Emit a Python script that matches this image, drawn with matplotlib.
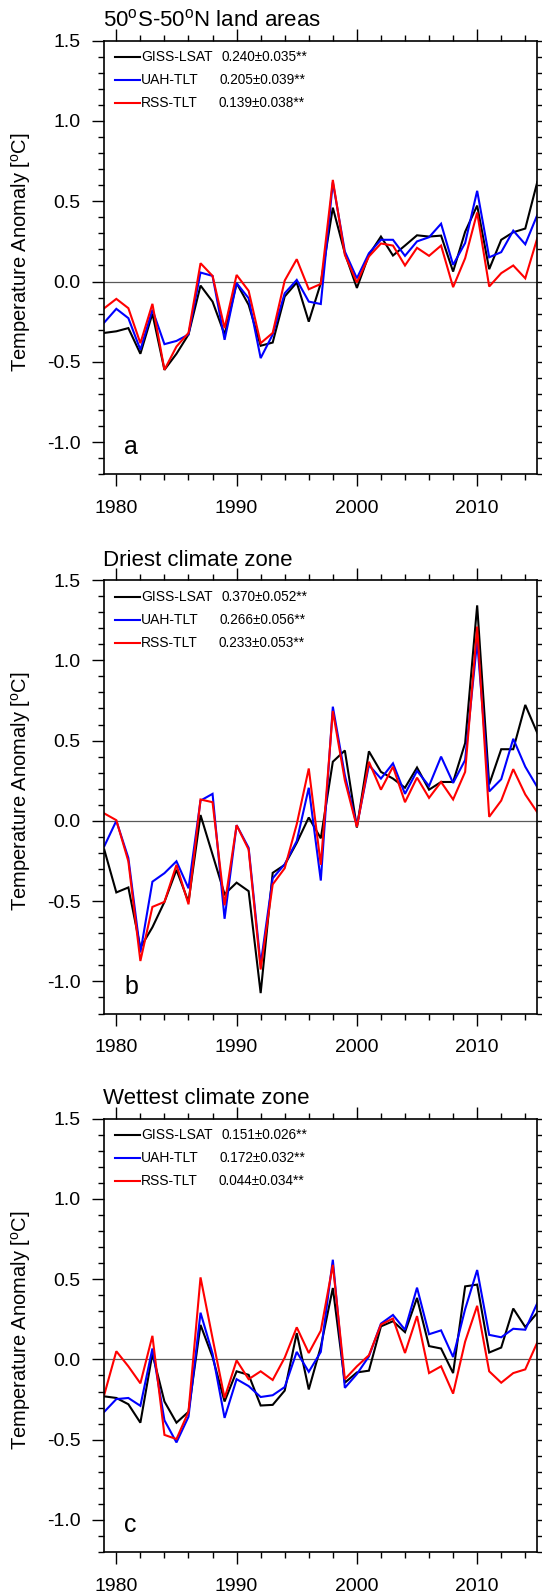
import numpy as np
import matplotlib
matplotlib.use("Agg")
import matplotlib.pyplot as plt

plt.rcParams["font.family"] = ["Liberation Sans", "DejaVu Sans"]
plt.rcParams["mathtext.fontset"] = "custom"
plt.rcParams["mathtext.rm"] = "Liberation Sans"

years = np.arange(1979, 2016)

# panel a: 50S-50N land areas
giss_a = [-0.32, -0.31, -0.29, -0.45, -0.20, -0.55, -0.45, -0.33, -0.025, -0.125,
          -0.33, -0.01, -0.145, -0.40, -0.38, -0.093, -0.006, -0.25, -0.01, 0.46,
          0.176, -0.04, 0.166, 0.28, 0.162, 0.224, 0.288, 0.28, 0.286, 0.062,
          0.31, 0.473, 0.077, 0.26, 0.307, 0.33, 0.62]
uah_a = [-0.255, -0.17, -0.228, -0.425, -0.176, -0.39, -0.37, -0.33, 0.056, 0.035,
         -0.363, -0.01, -0.104, -0.477, -0.33, -0.073, 0.01, -0.125, -0.14, 0.618,
         0.187, 0.02, 0.176, 0.26, 0.26, 0.16, 0.25, 0.276, 0.36, 0.104,
         0.24, 0.565, 0.151, 0.183, 0.317, 0.232, 0.415]
rss_a = [-0.166, -0.108, -0.166, -0.384, -0.139, -0.55, -0.405, -0.32, 0.114, 0.035,
         -0.29, 0.041, -0.058, -0.384, -0.32, 0.006, 0.139, -0.048, -0.015, 0.633,
         0.166, -0.006, 0.156, 0.237, 0.224, 0.10, 0.21, 0.16, 0.224, -0.035,
         0.145, 0.43, -0.031, 0.052, 0.10, 0.02, 0.27]

# panel b: driest climate zone
giss_b = [-0.18, -0.446, -0.415, -0.79, -0.663, -0.505, -0.305, -0.505, 0.036, -0.21,
          -0.457, -0.385, -0.438, -1.073, -0.324, -0.274, -0.137, 0.021, -0.109, 0.368,
          0.438, -0.042, 0.433, 0.305, 0.263, 0.206, 0.332, 0.194, 0.242, 0.242,
          0.484, 1.342, 0.227, 0.446, 0.446, 0.722, 0.547]
uah_b = [-0.158, 0.0, -0.231, -0.82, -0.379, -0.326, -0.252, -0.42, 0.126, 0.168,
         -0.61, -0.027, -0.168, -0.894, -0.358, -0.27, -0.126, 0.206, -0.372, 0.711,
         0.284, -0.032, 0.347, 0.263, 0.358, 0.168, 0.311, 0.217, 0.40, 0.236,
         0.379, 1.119, 0.183, 0.259, 0.511, 0.337, 0.21]
rss_b = [0.046, 0.004, -0.252, -0.873, -0.536, -0.505, -0.274, -0.52, 0.133, 0.116,
         -0.526, -0.027, -0.179, -0.926, -0.396, -0.295, -0.021, 0.326, -0.274, 0.684,
         0.252, -0.038, 0.368, 0.194, 0.337, 0.116, 0.269, 0.143, 0.242, 0.133,
         0.305, 1.21, 0.025, 0.126, 0.322, 0.164, 0.053]

# panel c: wettest climate zone
giss_c = [-0.23, -0.24, -0.279, -0.394, 0.036, -0.262, -0.394, -0.326, 0.215, 0.015,
          -0.262, -0.074, -0.096, -0.287, -0.283, -0.194, 0.164, -0.187, 0.079, 0.445,
          -0.145, -0.081, -0.07, 0.206, 0.238, 0.17, 0.383, 0.083, 0.068, -0.085,
          0.455, 0.466, 0.043, 0.074, 0.317, 0.202, 0.29]
uah_c = [-0.326, -0.247, -0.24, -0.289, 0.068, -0.379, -0.517, -0.357, 0.291, 0.036,
         -0.364, -0.123, -0.166, -0.234, -0.223, -0.172, 0.047, -0.077, 0.047, 0.621,
         -0.177, -0.091, 0.019, 0.223, 0.277, 0.185, 0.447, 0.157, 0.181, 0.015,
         0.313, 0.557, 0.153, 0.138, 0.191, 0.185, 0.351]
rss_c = [-0.219, 0.051, -0.043, -0.149, 0.147, -0.47, -0.496, -0.326, 0.511, 0.132,
         -0.24, -0.006, -0.123, -0.074, -0.128, 0.011, 0.20, 0.04, 0.179, 0.589,
         -0.123, -0.043, 0.026, 0.217, 0.255, 0.04, 0.27, -0.085, -0.043, -0.213,
         0.111, 0.334, -0.074, -0.145, -0.085, -0.062, 0.106]

titles = [r"50$^\mathrm{o}$S-50$^\mathrm{o}$N land areas",
          "Driest climate zone", "Wettest climate zone"]
letters = ["a", "b", "c"]
names = ["GISS-LSAT", "UAH-TLT", "RSS-TLT"]
trends = [["0.240\u00b10.035**", "0.205\u00b10.039**", "0.139\u00b10.038**"],
          ["0.370\u00b10.052**", "0.266\u00b10.056**", "0.233\u00b10.053**"],
          ["0.151\u00b10.026**", "0.172\u00b10.032**", "0.044\u00b10.034**"]]
series = [[giss_a, uah_a, rss_a], [giss_b, uah_b, rss_b], [giss_c, uah_c, rss_c]]
colors = ["black", "#0000ff", "#ff0000"]

# canvas and panel geometry in pixels
W, H = 542, 1596
LEFT, RIGHT = 104.3, 537.3
TOPS = [40.7, 580.0, 1118.6]
PH = 433.5
ROW_PX = [16.8, 39.8, 62.8]      # legend rows, px below the top spine
NUM_PX = [221.7, 219.3, 218.3]   # x where the trend numbers start


def draw_panel(ax, k):
    pw = RIGHT - LEFT
    for s, c in zip(series[k], colors):
        ax.plot(years, s, color=c, lw=1.5, solid_joinstyle="miter")
    ax.axhline(0.0, color="0.35", lw=0.9, zorder=0)

    ax.set_xlim(1979, 2015)
    ax.set_ylim(-1.2, 1.5)
    ax.set_xticks([1980, 1990, 2000, 2010])
    ax.set_xticks(np.arange(1980, 2016, 2), minor=True)
    ax.set_yticks([-1.0, -0.5, 0.0, 0.5, 1.0, 1.5])
    ax.set_yticklabels(["-1.0", "-0.5", "0.0", "0.5", "1.0", "1.5"])
    ax.set_yticks(np.arange(-1.2, 1.51, 0.1), minor=True)
    ax.tick_params(which="both", direction="out", top=True, right=True,
                   width=1.0, labelsize=14)
    ax.tick_params(which="major", length=8.4)
    ax.tick_params(which="minor", length=4.0)
    ax.tick_params(axis="y", which="major", pad=8.8)
    ax.tick_params(axis="x", which="major", pad=10.2)
    for sp in ax.spines.values():
        sp.set_linewidth(1.2)
    ax.set_ylabel("Temperature Anomaly [$^\\mathrm{o}$C]", fontsize=14.5)
    ax.yaxis.set_label_coords(-0.165, 0.512)

    ax.text(-1.2 / pw, 1 + 14.3 / PH, titles[k], transform=ax.transAxes,
            fontsize=16, ha="left", va="baseline")
    ax.text(19.7 / pw, 20.0 / PH, letters[k], transform=ax.transAxes,
            fontsize=18, ha="left", va="baseline")

    for i in range(3):
        y = 1 - ROW_PX[i] / PH
        ax.plot([(114.8 - LEFT) / pw, (139.7 - LEFT) / pw], [y, y],
                transform=ax.transAxes, color=colors[i], lw=1.5)
        ax.text((141.0 - LEFT) / pw, y, names[i], transform=ax.transAxes,
                fontsize=10, ha="left", va="center")
        ax.text((NUM_PX[i] - LEFT) / pw, y, trends[k][i], transform=ax.transAxes,
                fontsize=9.8, ha="left", va="center")


def main():
    fig = plt.figure(figsize=(W / 100, H / 100), dpi=100)
    for k, top in enumerate(TOPS):
        ax = fig.add_axes([LEFT / W, 1 - (top + PH) / H, (RIGHT - LEFT) / W, PH / H])
        draw_panel(ax, k)
    fig.savefig("out.png", dpi=100)


if __name__ == "__main__":
    main()
